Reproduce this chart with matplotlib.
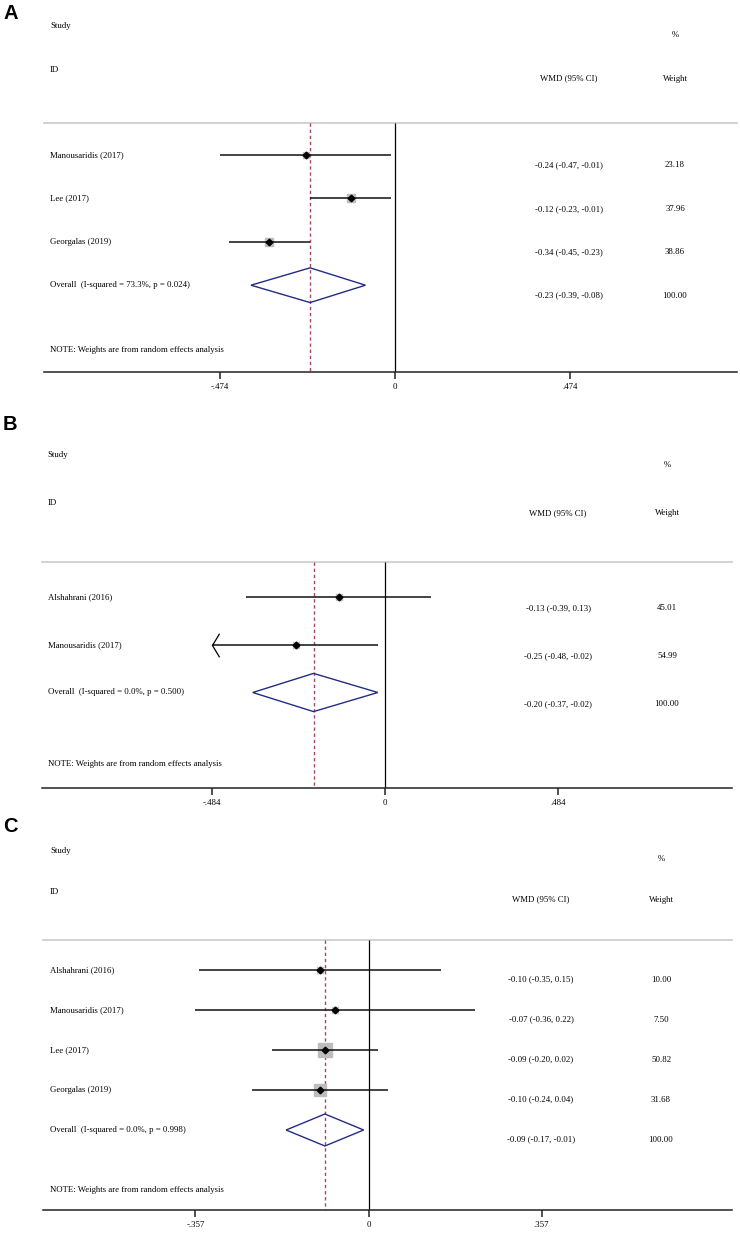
import numpy as np
import matplotlib
matplotlib.use('Agg')
import matplotlib.pyplot as plt
from matplotlib.path import Path

plt.rcParams['font.family'] = ['Liberation Serif', 'DejaVu Serif']

# Panel A
studies_a = ['Manousaridis (2017)', 'Lee (2017)', 'Georgalas (2019)']
wmd_a = [-0.24, -0.12, -0.34]
lower_a = [-0.474, -0.23, -0.45]
upper_a = [-0.01, -0.01, -0.23]
weight_a = [23.18, 37.96, 38.86]
overall_a = [-0.23, -0.39, -0.08]
i2_a, p_a = 73.3, 0.024
tick_a = 0.474

# Panel B
studies_b = ['Alshahrani (2016)', 'Manousaridis (2017)']
wmd_b = [-0.13, -0.25]
lower_b = [-0.39, -0.4845]
upper_b = [0.13, -0.02]
weight_b = [45.01, 54.99]
overall_b = [-0.20, -0.37, -0.02]
i2_b, p_b = 0.0, 0.500
tick_b = 0.484

# Panel C
studies_c = ['Alshahrani (2016)', 'Manousaridis (2017)', 'Lee (2017)', 'Georgalas (2019)']
wmd_c = [-0.10, -0.07, -0.09, -0.10]
lower_c = [-0.35, -0.357, -0.20, -0.24]
upper_c = [0.15, 0.22, 0.02, 0.04]
weight_c = [10.00, 7.50, 50.82, 31.68]
overall_c = [-0.09, -0.17, -0.01]
i2_c, p_c = 0.0, 0.998
tick_c = 0.357

W, H = 740, 1248
FS = 6.3
NAVY = '#222c85'
RED = '#a44a5c'
BOX = '#bdbdbd'

# left-open arrow for CIs running off the scale
arrow = Path([(0.6, 1), (0, 0), (0.6, -1)], [Path.MOVETO, Path.LINETO, Path.LINETO])

fig = plt.figure(figsize=(W / 100, H / 100), dpi=100)


def fmt_tick(v):
    if v == 0:
        return '0'
    s = f'{abs(v):.3f}'.lstrip('0')
    return ('-' if v < 0 else '') + s


def draw_panel(letter, studies, es, lo, hi, wt, ov, i2, p, tick, g):
    n = len(studies)
    r = (g['axis'] - g['row0']) / (n + 2)
    top = g['row0'] - 3.5 * r
    ax = fig.add_axes([g['left'] / W, 1 - g['axis'] / H,
                       (g['right'] - g['left']) / W, (g['axis'] - top) / H])
    px2x = lambda px: (px - g['zero']) / g['ppu']
    ax.set_xlim(px2x(g['left']), px2x(g['right']))
    ax.set_ylim(n + 2, -3.5)

    rows = np.arange(n)
    head = -0.74

    ax.axhline(head, 0, 1, color='#cfcfcf', lw=1.3, clip_on=False)
    ax.vlines(0, head, n + 2, color='black', lw=0.9)
    ax.vlines(ov[0], head, n + 2, color=RED, lw=1.0, linestyles=(0, (2.4, 2.0)))

    for i in range(n):
        left = max(lo[i], -tick)
        right = min(hi[i], tick)
        ax.plot(es[i], rows[i], marker='s', ms=g['box'] * np.sqrt(wt[i]) * 0.72,
                color=BOX, mec=BOX, zorder=2)
        ax.hlines(rows[i], left, right, color='#111111', lw=1.1, zorder=3)
        if lo[i] < -tick:
            ax.plot(-tick, rows[i], marker=arrow, ms=17, mfc='none', mec='black',
                    mew=0.9, zorder=3)
        ax.plot(es[i], rows[i], marker='D', ms=3.4, color='black', zorder=4)

    ax.fill([ov[1], ov[0], ov[2], ov[0]], [n, n - 0.4, n, n + 0.4],
            fill=False, edgecolor=NAVY, lw=1.0, zorder=3)

    # text columns
    lx = px2x(g['label'])
    cx = px2x(g['wmd'])
    wx = px2x(g['wt'])
    ax.text(lx, -2.97, 'Study', fontsize=FS, va='center')
    ax.text(lx, -1.96, 'ID', fontsize=FS, va='center')
    ax.text(wx, -2.77, '%', fontsize=FS, va='center', ha='center')
    ax.text(cx, -1.76, 'WMD (95% CI)', fontsize=FS, va='center', ha='center')
    ax.text(wx, -1.76, 'Weight', fontsize=FS, va='center', ha='center')
    for i in range(n):
        ax.text(lx, rows[i], studies[i], fontsize=FS, va='center')
        ax.text(cx, rows[i] + 0.24, f'{es[i]:.2f} ({lo[i]:.2f}, {hi[i]:.2f})',
                fontsize=FS, va='center', ha='center')
        ax.text(wx, rows[i] + 0.24, f'{wt[i]:.2f}', fontsize=FS, va='center', ha='center')
    ax.text(lx, n, f'Overall  (I-squared = {i2:.1f}%, p = {p:.3f})', fontsize=FS, va='center')
    ax.text(cx, n + 0.24, f'{ov[0]:.2f} ({ov[1]:.2f}, {ov[2]:.2f})',
            fontsize=FS, va='center', ha='center')
    ax.text(wx, n + 0.24, f'{sum(wt):.2f}', fontsize=FS, va='center', ha='center')
    ax.text(lx, n + 1.5, 'NOTE: Weights are from random effects analysis', fontsize=FS, va='center')

    for s in ['top', 'left', 'right']:
        ax.spines[s].set_visible(False)
    ax.spines['bottom'].set_linewidth(1.1)
    ax.spines['bottom'].set_color('#222222')
    ax.set_yticks([])
    ax.set_xticks([-tick, 0, tick])
    ax.set_xticklabels([fmt_tick(v) for v in (-tick, 0, tick)])
    ax.tick_params(axis='x', length=5, width=1.1, labelsize=FS, pad=3, color='#222222')

    fig.text(3 / W, 1 - g['letter'] / H, letter, fontsize=14.5, fontweight='bold',
             family=['Liberation Sans', 'DejaVu Sans'], va='center', ha='left')


geom_a = dict(row0=155, axis=372, zero=395, ppu=175 / 0.474, left=44, right=737,
              label=50, wmd=569, wt=675, box=1.14, letter=13.5)
geom_b = dict(row0=597, axis=788, zero=385, ppu=173 / 0.484, left=42, right=732,
              label=47.5, wmd=558, wt=667, box=0.94, letter=424)
geom_c = dict(row0=970, axis=1210, zero=368.5, ppu=173 / 0.357, left=43, right=732,
              label=50, wmd=541, wt=661, box=2.1, letter=826)

draw_panel('A', studies_a, wmd_a, lower_a, upper_a, weight_a, overall_a, i2_a, p_a, tick_a, geom_a)
draw_panel('B', studies_b, wmd_b, lower_b, upper_b, weight_b, overall_b, i2_b, p_b, tick_b, geom_b)
draw_panel('C', studies_c, wmd_c, lower_c, upper_c, weight_c, overall_c, i2_c, p_c, tick_c, geom_c)

fig.savefig('out.png', dpi=100)
